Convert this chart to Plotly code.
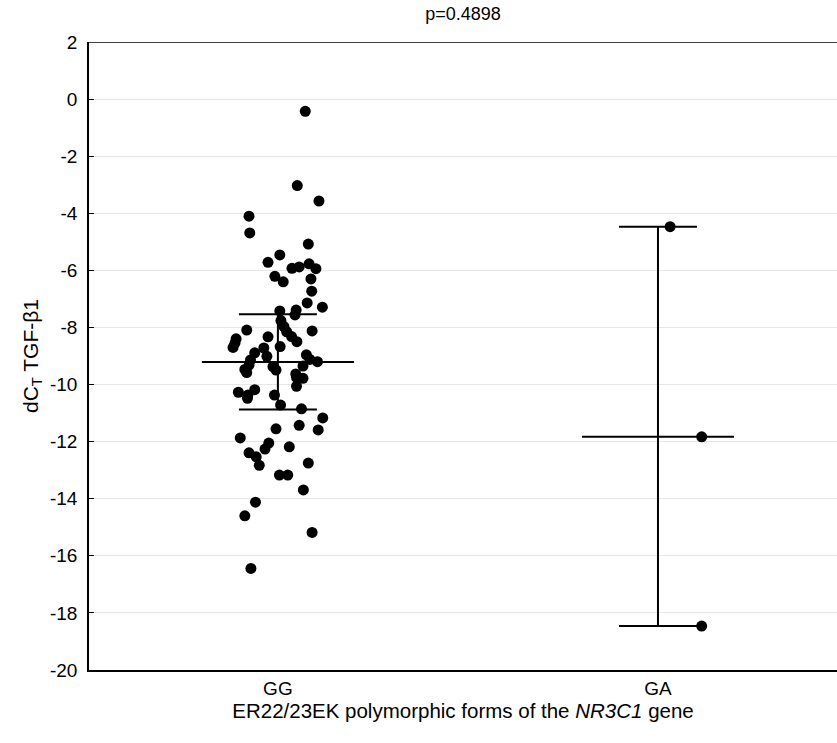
import plotly.graph_objects as go

categories = ["GG", "GA"]
y_tick_values = [-20, -18, -16, -14, -12, -10, -8, -6, -4, -2, 0, 2]
y_tick_labels = ["-20", "-18", "-16", "-14", "-12", "-10", "-8", "-6", "-4", "-2", "0", "2"]

# GG individual values (dC_T TGF-beta1) and horizontal jitter offsets (category units)
gg_values = [-0.43, -3.03, -3.57, -4.10, -4.69, -5.08, -5.46, -5.72, -5.93, -5.88,
             -5.77, -5.94, -6.21, -6.40, -6.30, -6.73, -7.14, -7.29, -7.42, -7.39,
             -7.56, -7.76, -7.97, -8.15, -8.32, -8.50, -8.12, -8.09, -8.33, -8.40,
             -8.55, -8.70, -8.89, -8.72, -9.01, -8.67, -9.14, -9.32, -9.47, -9.58,
             -9.37, -9.49, -8.96, -9.12, -9.20, -9.35, -9.63, -9.75, -9.78, -10.06,
             -10.27, -10.37, -10.18, -10.48, -10.37, -10.72, -10.85, -11.17, -11.43, -11.59,
             -11.55, -11.87, -12.39, -12.53, -12.26, -12.05, -12.83, -12.18, -12.75, -13.17,
             -13.17, -13.69, -14.12, -14.60, -15.18, -16.44]
gg_jitter = [0.072, 0.051, 0.108, -0.076, -0.074, 0.080, 0.005, -0.026, 0.037, 0.056,
             0.082, 0.100, -0.008, 0.014, 0.087, 0.089, 0.077, 0.117, 0.005, 0.048,
             0.045, 0.008, 0.016, 0.023, 0.036, 0.050, 0.090, -0.082, -0.026, -0.110,
             -0.113, -0.118, -0.061, -0.037, -0.029, 0.006, -0.072, -0.076, -0.087, -0.082,
             -0.013, -0.005, 0.075, 0.084, 0.104, 0.066, 0.047, 0.049, 0.066, 0.049,
             -0.104, -0.079, -0.061, -0.080, -0.009, 0.007, 0.062, 0.118, 0.056, 0.106,
             -0.005, -0.099, -0.076, -0.057, -0.034, -0.024, -0.049, 0.030, 0.080, 0.004,
             0.026, 0.067, -0.059, -0.087, 0.090, -0.071]

# GA individual values and jitter
ga_values = [-4.47, -11.83, -18.46]
ga_jitter = [0.032, 0.115, 0.115]

# Summary: central value with lower/upper whisker ends
centers = [-9.21, -11.83]
lowers = [-10.87, -18.46]
uppers = [-7.54, -4.47]
center_half_width = 0.2

fig = go.Figure()

fig.add_trace(go.Scatter(
    x=[0 + j for j in gg_jitter], y=gg_values, mode="markers",
    marker=dict(color="black", size=11), showlegend=False, hoverinfo="y"))
fig.add_trace(go.Scatter(
    x=[1 + j for j in ga_jitter], y=ga_values, mode="markers",
    marker=dict(color="black", size=11), showlegend=False, hoverinfo="y"))

fig.add_trace(go.Scatter(
    x=[0, 1], y=centers, mode="markers",
    marker=dict(color="rgba(0,0,0,0)", size=1),
    error_y=dict(type="data", symmetric=False,
                 array=[u - c for u, c in zip(uppers, centers)],
                 arrayminus=[c - l for l, c in zip(lowers, centers)],
                 color="black", thickness=2, width=39),
    error_x=dict(type="constant", value=center_half_width, color="black",
                 thickness=2, width=0),
    showlegend=False, hoverinfo="skip"))

# top frame line
fig.add_shape(type="line", xref="paper", yref="y", x0=0, x1=1, y0=2, y1=2,
              line=dict(color="black", width=1.5))

font_family = "Liberation Sans, Arial, sans-serif"

fig.update_layout(
    width=837, height=743,
    margin=dict(l=89, r=0, t=42, b=73, autoexpand=False),
    plot_bgcolor="white", paper_bgcolor="white",
    font=dict(family=font_family, color="black", size=19),
    title=dict(text="p=0.4898", x=463 / 837, xref="container", xanchor="center",
               yref="container", y=1 - 14 / 743, yanchor="middle",
               font=dict(size=18, family=font_family)),
    xaxis=dict(range=[-0.497, 1.471], tickvals=[0, 1], ticktext=categories,
               showgrid=False, zeroline=False, showline=True, linecolor="black",
               linewidth=1.5, ticks="", tickfont=dict(size=19), automargin=False,
               title=dict(text="ER22/23EK polymorphic forms of the <i>NR3C1</i> gene",
                          font=dict(size=20.5), standoff=0)),
    yaxis=dict(range=[-20, 2], tickvals=y_tick_values, ticktext=y_tick_labels,
               showgrid=True, gridcolor="#e6e6e6", gridwidth=1, zeroline=False,
               showline=True, linecolor="black", linewidth=1.5,
               ticks="inside", ticklen=5, tickcolor="black", automargin=False,
               tickfont=dict(size=19), ticklabelstandoff=6,
               title=dict(text="dC<sub>T</sub> TGF-β1", font=dict(size=21), standoff=6)),
)

fig.write_html("out.html", config={"displayModeBar": False},
               post_script="document.body.style.margin='0';")
